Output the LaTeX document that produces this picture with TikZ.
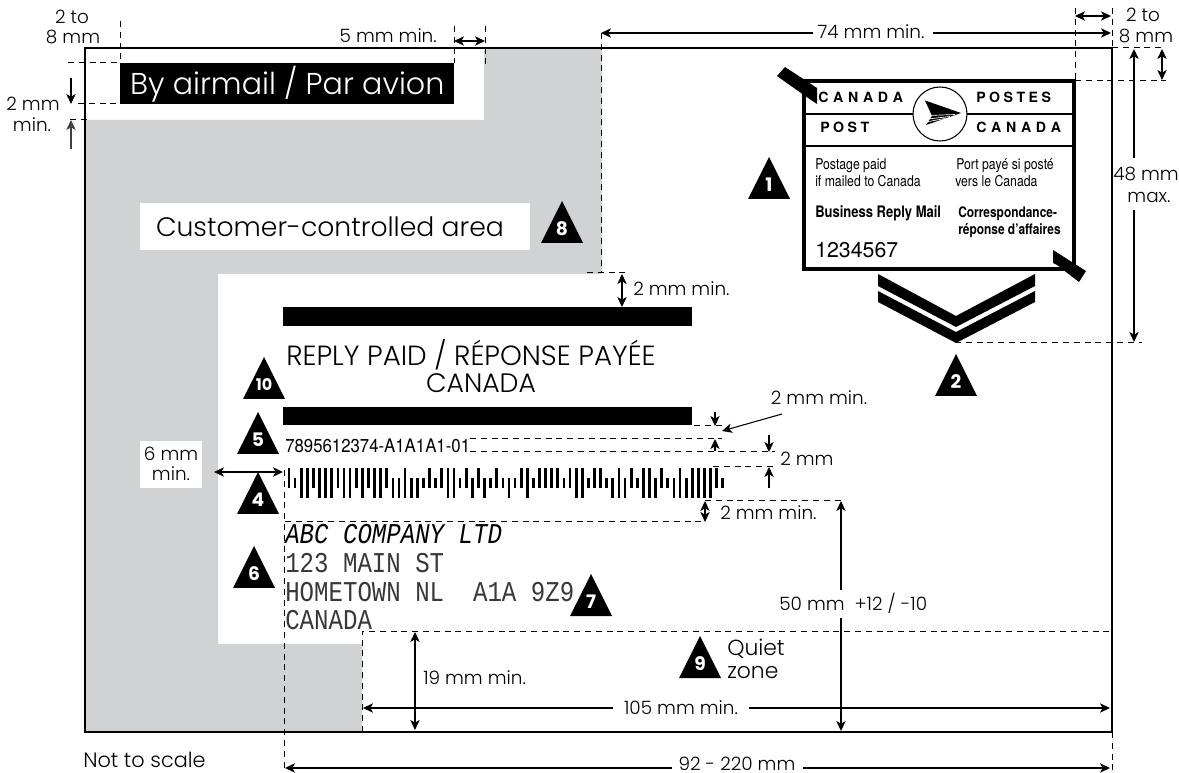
\documentclass[tikz,border=0pt]{standalone}
\usepackage{fontspec}
\usetikzlibrary{arrows.meta}
\setmainfont{Poppins}
\newfontfamily\lblf{Poppins Light}
\newfontfamily\digf{Poppins}
\newfontfamily\nrw[FakeStretch=0.82]{TeX Gyre Heros}
\newfontfamily\wdsp[FakeStretch=1.0]{TeX Gyre Heros}
\newfontfamily\ocr[FakeStretch=0.84]{Liberation Mono}
\newfontfamily\trk[FakeStretch=0.9]{TeX Gyre Heros}
\definecolor{areagrey}{HTML}{D1D2D4}
\def\btF{468}\def\bbF{498}
\def\btA{468}\def\bbA{488}
\def\btD{478}\def\bbD{498}
\def\btT{478}\def\bbT{488}
\def\codebars{A,T,F,F,A,F,F,F,A,F,F,A,F,A,F,F,A,D,D,F,D,D,T,A,T,A,F,F,T,A,D,A,D,T,A,T,
D,T,A,F,T,A,A,A,A,T,A,F,F,T,A,A,T,D,F,D,A,T,F,F,D,A,T,D,F,D,F,F,F,F,A,T}
\newcommand{\marker}[4]{%
  \fill (#2,#3) -- ({#2-21},{#3+42}) -- ({#2+21},{#3+42}) -- cycle;
  \node[digit] (#1) at (#2,{#3+28}) {#4};}
\tikzset{
  lab/.style={font=\lblf\fontsize{13.8}{16}\selectfont,inner sep=0pt,anchor=base},
  digit/.style={font=\digf\bfseries\fontsize{14}{16}\selectfont,text=white,inner sep=0pt},
  dim/.style={line width=0.8pt,{Stealth[length=7.5pt,width=7pt,inset=2pt]}-{Stealth[length=7.5pt,width=7pt,inset=2pt]}},
  dimend/.style={line width=0.8pt,-{Stealth[length=7.5pt,width=7pt,inset=2pt]}},
  guide/.style={line width=0.75pt,dash pattern=on 4.5pt off 3.6pt},
  stamp/.style={font=\nrw\fontsize{11.2}{13}\selectfont,inner sep=0pt,anchor=base west},
  stampb/.style={font=\nrw\bfseries\fontsize{10.9}{13}\selectfont,inner sep=0pt,anchor=base west},
  brand/.style={font=\wdsp\bfseries\fontsize{10.6}{13}\selectfont,inner sep=0pt,anchor=base west},
  addr/.style={font=\ocr\fontsize{21.5}{24}\selectfont,inner sep=0pt,anchor=base west,text=black!78},
}
\begin{document}
\begin{tikzpicture}[x=0.75pt,y=-0.75pt]
\useasboundingbox (0,0) rectangle (1179,773);
\fill[white] (0,0) rectangle (1179,773);
% grey customer area
\fill[areagrey] (484,49) -- (602,49) -- (602,274) -- (218,274) -- (218,644) -- (362,644) -- (362,732) -- (85,732) -- (85,120) -- (484,120) -- cycle;
% outer envelope
\draw[line width=2pt] (85,48) rectangle (1112,732);
% airmail
\node[fill=black,minimum width=250.5pt,minimum height=30.75pt,inner sep=0pt,anchor=north west,text=white,font=\lblf\fontsize{22.6}{26}\selectfont] (air) at (120,63) {By airmail / Par avion};
\draw[guide] (120,21) -- (120,63);
\draw[guide] (68,63) -- (120,63);
\draw[guide] (78,104) -- (120,104);
\draw[guide] (70,120) -- (87,120);
\draw[dimend] (71,78) -- (71,104);
\draw[dimend,draw=black!75] (71,149) -- (71,120);
\node[lab] (a1) at (72,24) {2 to};
\node[lab] (a2) at (73,44) {8 mm};
\node[lab] (b1) at (33,111) {2 mm};
\node[lab] (b2) at (32,132) {min.};
\node[lab,anchor=base east] (c) at (437,43) {5 mm min.};
\draw[guide] (454,26) -- (454,63);
\draw[guide] (485,26) -- (485,68);
\draw[dim] (454,41) -- (485,41);
% 74 mm
\draw[guide] (601,33) -- (601,273);
\draw[guide] (587,273) -- (626,273);
\draw[dimend] (813,33) -- (601,33);
\draw[dimend] (933,33) -- (1111,33);
\node[lab] (d) at (871,39) {74 mm min.};
\draw[dim] (622,274) -- (622,307);
\node[lab,anchor=base west] (e) at (633,296) {2 mm min.};
% top right
\draw[guide] (1075,8) -- (1075,81);
\draw[guide] (1112,8) -- (1112,48);
\draw[dim] (1075,16) -- (1111,16);
\node[lab] (f1) at (1143,22) {2 to};
\node[lab] (f2) at (1146,43) {8 mm};
\draw[guide] (1112,48) -- (1166,48);
\draw[guide] (1075,81) -- (1166,81);
\draw[dim] (1162,49) -- (1162,80);
\draw[dimend] (1134,158) -- (1134,49);
\draw[dimend] (1134,210) -- (1134,342);
\node[lab] (g1) at (1146,181) {48 mm};
\node[lab] (g2) at (1149,203) {max.};
\draw[guide] (955,343) -- (1142,343);
% indicia
\draw[line width=2.3pt] (804,81) rectangle (1074,269);
\draw[line width=0.8pt] (804,114) -- (1074,114);
\draw[line width=2.2pt] (804,146) -- (1074,146);
\fill[black] (777,76) -- (785,67) -- (817,88) -- (817,104) -- (808,98) -- cycle;
\fill[black] (1053,250) -- (1086,271) -- (1079,282) -- (1057,265) -- (1053,263) -- cycle;
\filldraw[fill=white,line width=0.8pt] (940,114) circle (27);
\fill[black] (925,100.5) -- (961,113) -- (926,125) -- (932,116) -- cycle;
\draw[white,line width=0.5pt] (928,115.5) -- (955,114.5) (928,119) -- (950,116.5) (926,122) -- (945,118.5);
\node[brand,text=black] (n1) at (818,103) {C\,\,A\,\,N\,\,A\,\,D\,\,A};
\node[brand] (n2) at (976,103) {P\kern2.6pt O\kern2.6pt S\kern2.6pt T\kern2.6pt E\kern2.6pt S};
\node[brand] (n3) at (820,133) {P\kern2.6pt O\kern2.6pt S\kern2.6pt T};
\node[brand] (n4) at (976,133) {C\,\,A\,\,N\,\,A\,\,D\,\,A};
\node[stamp] (s1) at (815,170) {Postage paid};
\node[stamp] (s2) at (815,187) {if mailed to Canada};
\node[stamp] (s3) at (956,170) {Port payé si posté};
\node[stamp] (s4) at (955,187) {vers le Canada};
\node[stampb,font=\nrw\bfseries\fontsize{11.9}{13}\selectfont] (s5) at (815,218) {Business Reply Mail};
\node[stampb] (s6) at (958,218) {Correspondance-};
\node[stampb] (s7) at (958,235) {réponse d’affaires};
\node[inner sep=0pt,anchor=base west,font=\wdsp\fontsize{16}{18}\selectfont] (s8) at (815,258) {1234567};
% chevrons
\fill[black] (878,274) -- (956,316) -- (1035,274) -- (1035,286) -- (956,327) -- (878,286) -- cycle;
\fill[black] (878,291) -- (956,332) -- (1035,291) -- (1035,302) -- (956,343) -- (878,302) -- cycle;
% customer-controlled area
\fill[white] (140,203) rectangle (530,250);
\node[lab,font=\lblf\fontsize{20}{24}\selectfont] (h) at (330,237) {Customer-controlled area};
% bars
\fill[black] (283,307) rectangle (692,326);
\fill[black] (283,407) rectangle (692,425);
\node[lab,font=\lblf\fontsize{20.8}{23}\selectfont] (i1) at (471,366) {REPLY PAID / RÉPONSE PAYÉE};
\node[lab,font=\lblf\fontsize{20}{23}\selectfont] (i2) at (481,393) {CANADA};
% tracking number
\node[inner sep=0pt,anchor=base west,font=\trk\fontsize{14}{16}\selectfont] (j) at (285,453) {7895612374-A1A1A1-01};
\draw[guide] (694,426) -- (722,426);
\draw[guide] (470,439) -- (722,439);
\draw[guide] (470,452) -- (775,452);
\draw[guide] (713,467) -- (775,467);
\draw[guide] (705,501) -- (843,501);
\draw[guide] (285,522) -- (703,522);
\draw[dimend] (715,412) -- (715,426);
\draw[dimend] (715,451) -- (715,439);
\node[lab] (k) at (819,405) {2 mm min.};
\draw[dimend] (782,414) -- (722,431);
\draw[dimend] (769,435) -- (769,452);
\draw[dimend] (769,488) -- (769,467);
\node[lab,anchor=base west] (l) at (780,466) {2 mm};
\draw[dim] (705,501) -- (705,522);
\node[lab,anchor=base west] (m) at (720,520) {2 mm min.};
% barcode
\foreach \b [count=\i from 0] in \codebars {
  \pgfmathsetmacro{\xx}{289+6.11*\i}
  \fill[black] ({\xx-1.35},\csname bt\b\endcsname) rectangle ({\xx+1.35},\csname bb\b\endcsname);
}
% address
\node[addr,font=\ocr\itshape\fontsize{21.5}{24}\selectfont,text=black] (o1) at (285,544) {ABC COMPANY LTD};
\node[addr] (o2) at (285,572) {123 MAIN ST};
\node[addr] (o3) at (285,601) {HOMETOWN NL\ \ A1A 9Z9};
\node[addr] (o4) at (285,629) {CANADA};
% 6 mm
\fill[white] (140,441) rectangle (202,488);
\node[lab] (p1) at (171,461) {6 mm};
\node[lab] (p2) at (171,481) {min.};
\draw[dim] (214,472) -- (283,472);
\draw[guide] (284,470) -- (284,770);
\draw[guide] (1112,732) -- (1112,770);
% quiet zone
\draw[guide] (362,732) -- (362,631) -- (1112,631);
\draw[dim] (415,632) -- (415,730);
\node[lab,anchor=base west] (q) at (423,684) {19 mm min.};
\node[lab,anchor=base west,font=\lblf\fontsize{16.4}{19}\selectfont] (r1) at (727,655) {Quiet};
\node[lab,anchor=base west,font=\lblf\fontsize{16.4}{19}\selectfont] (r2) at (727,678) {zone};
\draw[dimend] (613,708) -- (363,708);
\draw[dimend] (749,708) -- (1110,708);
\node[lab] (t) at (681,714) {105 mm min.};
\draw[dimend] (841,590) -- (841,501);
\draw[dimend] (841,618) -- (841,731);
\node[lab,anchor=base west] (u) at (779,610) {50 mm\ \ +12 / -10};
\draw[dimend] (672,768) -- (285,768);
\draw[dimend] (803,768) -- (1110,768);
\node[lab] (v) at (737,770) {92 - 220 mm};
\node[lab,anchor=base west,font=\lblf\fontsize{15.6}{18}\selectfont] (w) at (83,767) {Not to scale};
% markers
\marker{t1}{769}{157}{1}
\marker{t2}{956}{354}{2}
\marker{t8}{562}{201}{8}
\marker{t10}{264}{357}{{\fontsize{12}{14}\selectfont 10}}
\marker{t5}{258}{412}{5}
\marker{t4}{258}{472}{4}
\marker{t6}{254}{546}{6}
\marker{t7}{591}{574}{7}
\marker{t9}{700}{636}{9}
\end{tikzpicture}
\end{document}
